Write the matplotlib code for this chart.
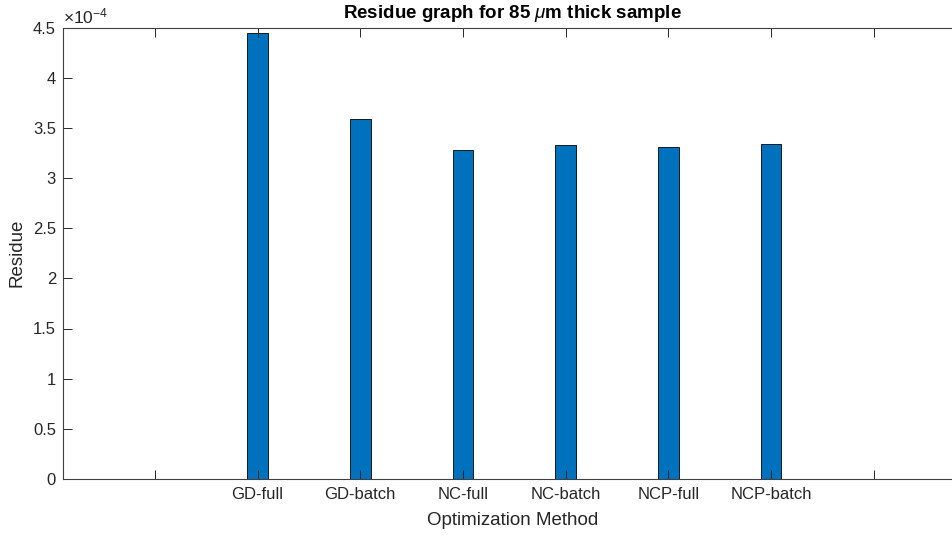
import numpy as np
import matplotlib.pyplot as plt

methods = ['GD-full', 'GD-batch', 'NC-full', 'NC-batch', 'NCP-full', 'NCP-batch']
residue = np.array([4.45e-4, 3.59e-4, 3.283e-4, 3.333e-4, 3.313e-4, 3.343e-4])
yticks = [0, 0.5, 1, 1.5, 2, 2.5, 3, 3.5, 4, 4.5]

plt.rcParams['font.family'] = ['Liberation Sans', 'DejaVu Sans']
plt.rcParams['mathtext.fontset'] = 'custom'
plt.rcParams['mathtext.rm'] = 'Liberation Sans'
plt.rcParams['mathtext.it'] = 'Liberation Sans:italic'

fig = plt.figure(figsize=(9.53, 5.35), dpi=100)
ax = fig.add_axes([63 / 953, 56 / 535, 899 / 953, 451.5 / 535])

x = np.arange(1, len(methods) + 1)
ax.bar(x, residue / 1e-4, width=0.2, color='#0072BD', edgecolor='black', linewidth=0.6)

ax.set_xlim(-0.895, 7.86)
ax.set_ylim(0, 4.5)
ax.set_xticks(np.arange(0, 8))
ax.set_xticklabels([''] + methods + [''])
ax.set_yticks(yticks)
ax.set_yticklabels(['%g' % t for t in yticks])

for s in ax.spines.values():
    s.set_color('#404040')
    s.set_linewidth(0.8)
ax.tick_params(direction='in', length=6.5, width=0.7, colors='#262626', labelsize=12,
               top=True, right=True)
ax.tick_params(axis='x', pad=6)
ax.tick_params(axis='y', pad=5)

ax.set_xlabel('Optimization Method', fontsize=13.5, color='#262626', labelpad=7)
ax.set_ylabel('Residue', fontsize=13.5, color='#262626', labelpad=5)
ax.set_title(r'Residue graph for 85 $\mu$m thick sample', fontsize=13.5,
             fontweight='bold', pad=7)
ax.text(0, 1.002, r'$\times$10$^{\mathregular{-4}}$', transform=ax.transAxes,
        fontsize=12.5, color='#262626', ha='left', va='bottom')

fig.savefig('out.png', dpi=100)
